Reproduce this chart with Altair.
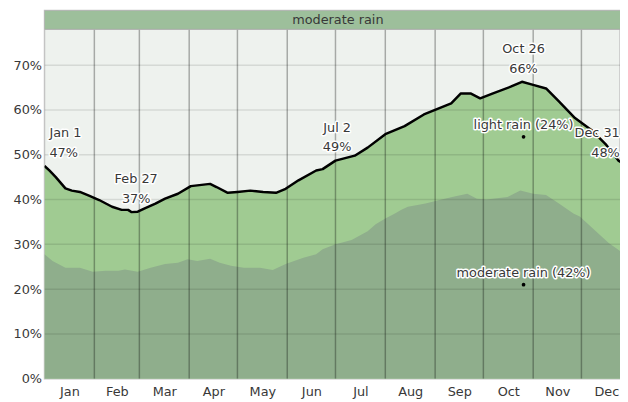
import altair as alt
import pandas as pd

# ---- data ----
total_days = [0, 3, 7, 13, 17, 22, 28, 34, 42, 48,
              52, 54, 58, 62, 69, 75, 83, 91, 103, 107,
              114, 120, 128, 136, 144, 150, 158, 169, 173, 181,
              193, 201, 212, 224, 236, 253, 259, 265, 271, 279,
              290, 297, 304, 312, 320, 330, 341, 349, 357, 365]
total_vals = [47.5, 46.5, 45.0, 42.5, 42.0, 41.7, 40.8, 39.9, 38.4, 37.7,
              37.7, 37.2, 37.3, 38.0, 39.1, 40.2, 41.3, 43.0, 43.5, 42.8,
              41.5, 41.7, 42.0, 41.7, 41.5, 42.4, 44.3, 46.5, 46.8, 48.7,
              49.8, 51.6, 54.6, 56.4, 59.0, 61.5, 63.7, 63.7, 62.6, 63.7,
              65.2, 66.3, 65.6, 64.8, 61.9, 58.2, 55.3, 52.4, 48.7, 47.0]

moderate_days = [0, 5, 13, 22, 30, 38, 46, 50, 58, 66,
                 75, 83, 89, 95, 103, 109, 116, 124, 134, 142,
                 150, 161, 169, 173, 181, 191, 201, 206, 212, 218,
                 222, 226, 232, 237, 247, 255, 263, 269, 275, 288,
                 296, 304, 312, 320, 329, 333, 343, 351, 358, 365]
moderate_vals = [27.8, 26.3, 24.8, 24.8, 23.9, 24.1, 24.1, 24.4, 23.9, 24.8,
                 25.6, 25.9, 26.7, 26.3, 26.8, 25.9, 25.2, 24.8, 24.8, 24.3,
                 25.6, 27.0, 27.8, 28.9, 30.0, 31.0, 32.9, 34.5, 35.8, 36.9,
                 37.7, 38.4, 38.8, 39.1, 40.0, 40.7, 41.3, 40.2, 40.0, 40.6,
                 42.0, 41.3, 41.0, 39.1, 36.9, 36.2, 32.9, 30.3, 28.5, 27.8]

month_names = ["Jan", "Feb", "Mar", "Apr", "May", "Jun",
               "Jul", "Aug", "Sep", "Oct", "Nov", "Dec"]
month_starts = [0, 31, 59, 90, 120, 151, 181, 212, 243, 273, 304, 334, 365]
y_ticks = [0, 10, 20, 30, 40, 50, 60, 70]

ann_text = ["Jan 1\n47%", "Feb 27\n37%", "Jul 2\n49%", "Oct 26\n66%", "Dec 31\n48%"]
ann_day = [0, 57, 182, 298, 364]
ann_val = [47.5, 37.3, 48.8, 66.3, 47.5]
ann_align = ["left", "center", "center", "center", "right"]

legend_names = ["light rain", "moderate rain"]
legend_pct = [24, 42]
legend_day = 298

header_label = "moderate rain"
header_bottom = 78.0
Y_MAX = 82.2
X_MAX = 358

# ---- frames ----
df_total = pd.DataFrame({"day": total_days, "v": total_vals})
df_mod = pd.DataFrame({"day": moderate_days, "v": moderate_vals})
mids = [(a + b) / 2 for a, b in zip(month_starts[:-1], month_starts[1:])]
df_vgrid = pd.DataFrame({"day": month_starts[1:-1], "v0": 0.0, "v1": header_bottom})
df_hgrid = pd.DataFrame({"v": y_ticks[1:]})
df_ann = pd.DataFrame({"day": ann_day, "v": ann_val, "t": ann_text, "al": ann_align})
# legend dots: middle of each band at the legend day
df_leg = pd.DataFrame({
    "day": [legend_day, legend_day],
    "v": [legend_pct[1] + legend_pct[0] / 2, legend_pct[1] / 2],
    "t": [f"{n} ({p}%)" for n, p in zip(legend_names, legend_pct)],
})
df_head = pd.DataFrame({"day": [0], "x2": [365], "v": [header_bottom], "y2": [Y_MAX],
                        "xm": [182.5], "ym": [(header_bottom + Y_MAX) / 2], "t": [header_label]})

xs = alt.Scale(domain=[0, X_MAX], nice=False, zero=False)
ys = alt.Scale(domain=[0, Y_MAX], nice=False, zero=True)

FONT = "DejaVu Sans"
TXT = "#383838"

label_expr = ("[" + ",".join(f"'{m}'" for m in month_names) + "][indexof(["
              + ",".join(str(m) for m in mids) + "], datum.value)]")

x_axis = alt.Axis(values=mids, labelExpr=label_expr, ticks=False, domain=False,
                  grid=False, title=None, labelFontSize=13, labelColor=TXT,
                  labelPadding=7, labelFont=FONT)
y_axis = alt.Axis(values=y_ticks, labelExpr="datum.value + '%'", ticks=False,
                  domain=False, grid=False, title=None, labelFontSize=13,
                  labelColor=TXT, labelPadding=3, labelFont=FONT)


def X(field="day"):
    return alt.X(f"{field}:Q", scale=xs, axis=x_axis, title=None)


def Y(field="v"):
    return alt.Y(f"{field}:Q", scale=ys, axis=y_axis, title=None)


light_area = alt.Chart(df_total).mark_area(color="#a0cb92", clip=True).encode(x=X(), y=Y())
mod_area = alt.Chart(df_mod).mark_area(color="#8fae8c", clip=True).encode(x=X(), y=Y())
hgrid = alt.Chart(df_hgrid).mark_rule(color="black", opacity=0.1, strokeWidth=1.5,
                                      clip=True).encode(y=Y(), x=alt.value(0), x2=alt.value(583))
vgrid = alt.Chart(df_vgrid).mark_rule(color="black", opacity=0.3, strokeWidth=1.5,
                                      clip=True).encode(x=X(), y=Y("v0"), y2="v1:Q")
line = alt.Chart(df_total).mark_line(color="black", strokeWidth=2.5, clip=True,
                                     strokeJoin="round").encode(x=X(), y=Y())
head_rect = alt.Chart(df_head).mark_rect(fill="#9dbf9b", stroke="#adadad", strokeWidth=1,
                                         clip=True).encode(x=X(), x2="x2:Q", y=Y(), y2="y2:Q")
head_text = alt.Chart(df_head).mark_text(font=FONT, fontSize=13, color=TXT,
                                         baseline="middle", clip=True).encode(
    x=X("xm"), y=Y("ym"), text="t:N")


def halo_text(df, align, dx, dy):
    enc = dict(x=X(), y=Y(), text="t:N")
    common = dict(font=FONT, fontSize=13, align=align, baseline="bottom",
                  dx=dx, dy=dy, lineBreak="\n", lineHeight=20, clip=True)
    halo = alt.Chart(df).mark_text(color="white", stroke="white", strokeWidth=3,
                                   strokeJoin="round", **common).encode(**enc)
    fill = alt.Chart(df).mark_text(color=TXT, **common).encode(**enc)
    return [halo, fill]


ann_layers = []
for al, dx in [("left", 5), ("center", 0), ("right", -10)]:
    sub = df_ann[df_ann["al"] == al]
    ann_layers += halo_text(sub, al, dx, -26)

dots = alt.Chart(df_leg).mark_circle(color="black", size=14, opacity=1, clip=True).encode(
    x=X(), y=Y())
leg_layers = halo_text(df_leg, "center", 0, -5)

chart = alt.layer(
    light_area, mod_area, hgrid, vgrid, line, head_rect, head_text,
    *ann_layers, dots, *leg_layers,
).properties(
    width=583, height=373,
    padding={"left": 37, "top": 0, "right": 0, "bottom": 22},
    autosize=alt.AutoSizeParams(type="none"),
    background="white",
).configure_view(
    fill="#eef2ee", stroke="#c4c4c4", strokeWidth=1.5,
)

chart.save("out.html", embed_options={"renderer": "svg", "actions": False})
